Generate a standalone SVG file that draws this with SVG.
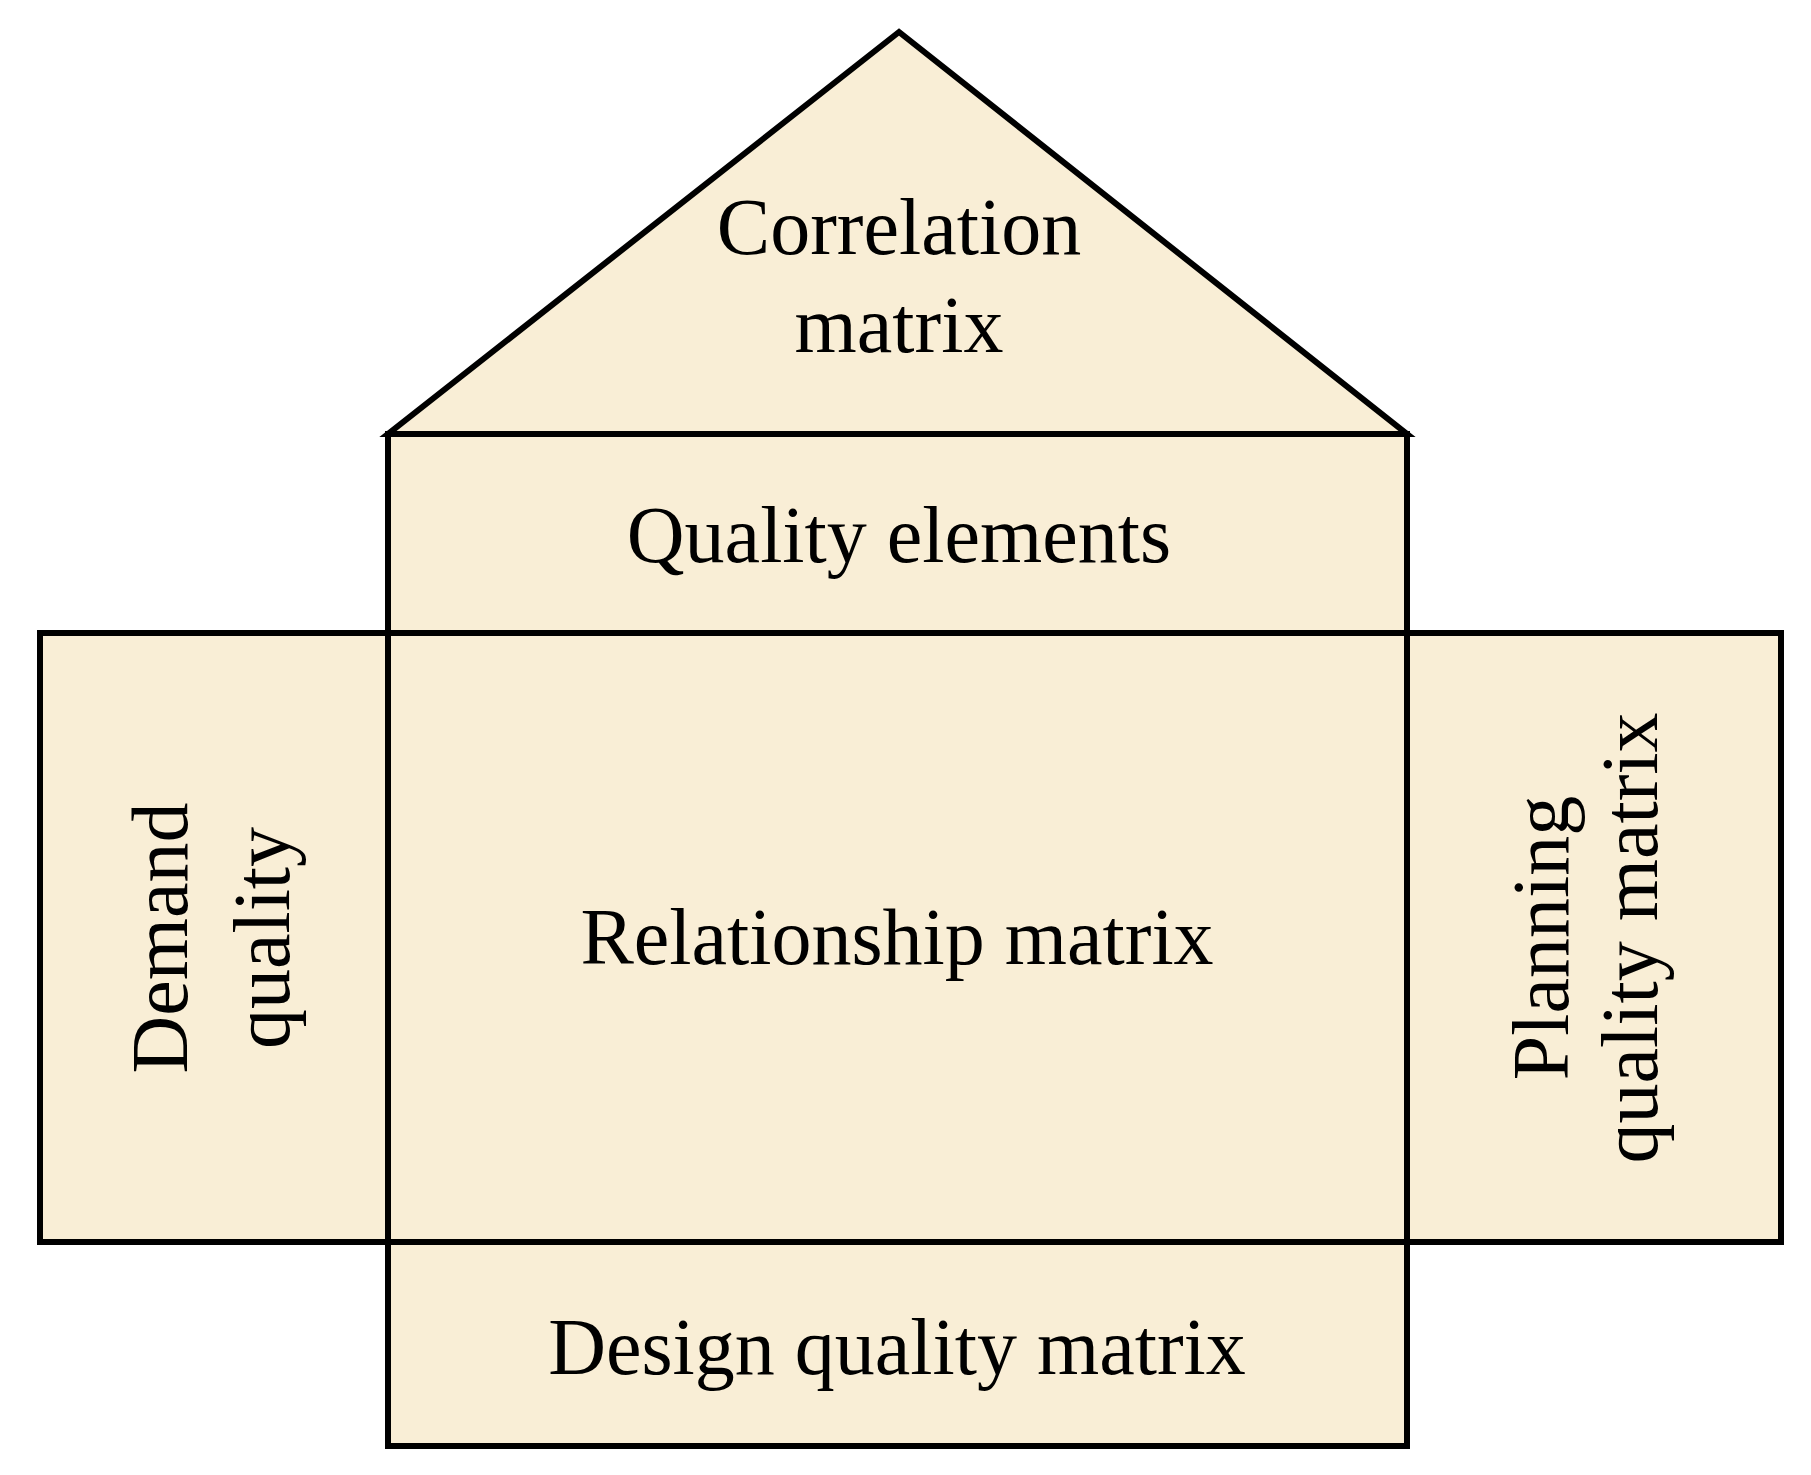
<svg xmlns="http://www.w3.org/2000/svg" width="1811" height="1475" viewBox="0 0 1811 1475">
<style>
.b{fill:#f9eed6;stroke:#000;stroke-width:6}
text{font-family:"Liberation Serif",serif;font-size:80px;fill:#000;text-anchor:middle}
</style>
<rect width="1811" height="1475" fill="#fff"/>
<g id="roof"><polygon class="b" points="899,32 388,434 1407,434"/><text x="899" y="254">Correlation</text><text x="899" y="352">matrix</text></g>
<g id="quality-elements"><rect class="b" x="388" y="434" width="1019" height="199"/><text x="899" y="562">Quality elements</text></g>
<g id="demand"><rect class="b" x="40" y="633" width="348" height="609"/><text transform="translate(187,938) rotate(-90)">Demand</text><text transform="translate(289,938) rotate(-90)">quality</text></g>
<g id="planning"><rect class="b" x="1407" y="633" width="374" height="609"/><text transform="translate(1568,938) rotate(-90)">Planning</text><text transform="translate(1657,938) rotate(-90)">quality matrix</text></g>
<g id="relationship"><rect class="b" x="388" y="633" width="1019" height="609"/><text x="897" y="964">Relationship matrix</text></g>
<g id="design"><rect class="b" x="388" y="1242" width="1019" height="204"/><text x="897" y="1374">Design quality matrix</text></g>
<g id="connectors"/>
</svg>
